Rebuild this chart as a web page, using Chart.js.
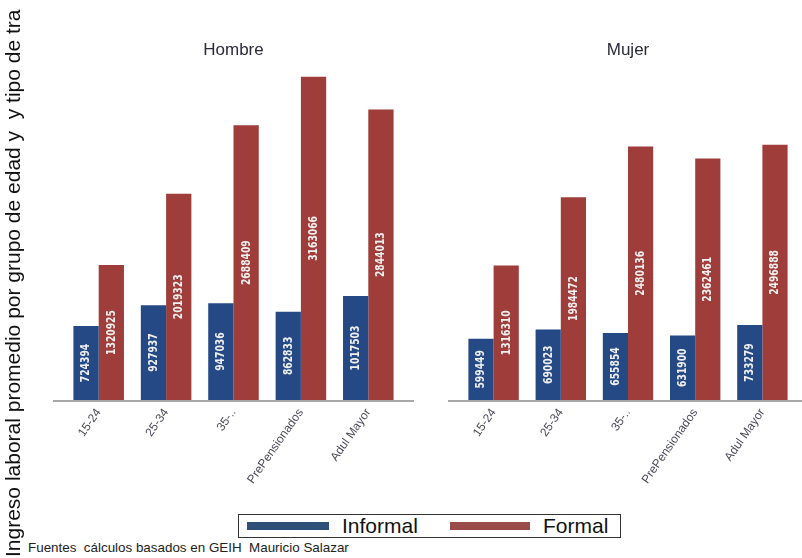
<!DOCTYPE html>
<html>
<head>
<meta charset="utf-8">
<script src="https://cdn.jsdelivr.net/npm/chart.js@4.4.1/dist/chart.umd.min.js"></script>
<style>
  html, body { margin: 0; padding: 0; background: #fff; }
  body { width: 802px; height: 558px; position: relative; overflow: hidden; font-family: Arial, "Liberation Sans", sans-serif; }
  .panel { position: absolute; top: 0; }
  #ytitle {
    position: absolute; left: 13px; top: 557px;
    transform-origin: 0 0; transform: rotate(-90deg) translateY(-50%);
    font-size: 21px; color: #111; white-space: pre;
  }
  #legend {
    position: absolute; left: 238px; top: 514px; width: 381px; height: 22px;
    border: 1.5px solid #333; background: #fff;
  }
  .sw { position: absolute; top: 7px; height: 8px; }
  .lt { position: absolute; top: -1px; font-size: 21px; color: #111; line-height: 24px; }
  #note {
    position: absolute; left: 28px; top: 540px; font-size: 13.4px; color: #222;
    white-space: pre; line-height: 16px;
  }
</style>
</head>
<body>
<div class="panel" style="left:0;width:420px;height:510px;"><canvas id="c1" width="420" height="510"></canvas></div>
<div class="panel" style="left:410px;width:392px;height:510px;"><canvas id="c2" width="392" height="510"></canvas></div>
<div id="ytitle">Ingreso laboral promedio por grupo de edad y  y tipo de tra</div>
<div id="legend">
  <div class="sw" style="left:8px;width:82px;background:#2d4f78;"></div>
  <div class="lt" style="left:103px;">Informal</div>
  <div class="sw" style="left:211px;width:80px;background:#9b4a4a;"></div>
  <div class="lt" style="left:304px;">Formal</div>
</div>
<div id="note">Fuentes  cálculos basados en GEIH  Mauricio Salazar</div>
<script>
// Age groups and average labour income by sex and job type
const categories = ['15-24', '25-34', '35-..', 'PrePensionados', 'Adul Mayor'];
const hombreInformal = [724394, 927937, 947036, 862833, 1017503];
const hombreFormal = [1320925, 2019323, 2688409, 3163066, 2844013];
const mujerInformal = [599449, 690023, 655854, 631900, 733279];
const mujerFormal = [1316310, 1984472, 2480136, 2362461, 2496888];
const seriesNames = ['Informal', 'Formal'];

const BLUE = '#244985';
const RED = '#9e3d39';

// Tall, narrow bold digits for the in-bar values
const VALUE_FONT = 'bold 13px "Liberation Sans Narrow", "DejaVu Sans Condensed", sans-serif';
const DIGIT_ADVANCE = 6.4;

// Writes each bar's value vertically in the middle of the bar
const barValues = {
  id: 'barValues',
  afterDatasetsDraw(chart) {
    const ctx = chart.ctx;
    ctx.save();
    ctx.fillStyle = '#f0f0f0';
    ctx.font = VALUE_FONT;
    ctx.textAlign = 'center';
    ctx.textBaseline = 'middle';
    chart.data.datasets.forEach((ds, i) => {
      const meta = chart.getDatasetMeta(i);
      meta.data.forEach((bar, j) => {
        const txt = String(ds.data[j]);
        const w = ctx.measureText(txt).width;
        const sx = Math.min(1, (DIGIT_ADVANCE * txt.length) / w);
        const cy = (bar.y + bar.base) / 2;
        ctx.save();
        ctx.translate(bar.x, cy);
        ctx.rotate(-Math.PI / 2);
        ctx.scale(sx, 1);
        ctx.fillText(txt, 0, 0);
        ctx.restore();
      });
    });
    ctx.restore();
  }
};

// Grey baseline that runs a little past the outer bars
const baseline = {
  id: 'baseline',
  beforeDatasetsDraw(chart, args, opts) {
    const a = chart.chartArea;
    const ctx = chart.ctx;
    ctx.save();
    ctx.strokeStyle = '#a8a8a8';
    ctx.lineWidth = 2;
    ctx.beginPath();
    ctx.moveTo(a.left - opts.extL, a.bottom + 1);
    ctx.lineTo(a.right + opts.extR, a.bottom + 1);
    ctx.stroke();
    ctx.restore();
  }
};

function makePanel(id, title, informal, formal, padL, padR, extL, extR) {
  return new Chart(document.getElementById(id), {
    type: 'bar',
    data: {
      labels: categories,
      datasets: [
        { label: seriesNames[0], data: informal, backgroundColor: BLUE },
        { label: seriesNames[1], data: formal, backgroundColor: RED }
      ]
    },
    options: {
      responsive: false,
      animation: false,
      layout: { padding: { left: padL, right: padR, top: 40, bottom: 0 } },
      datasets: { bar: { categoryPercentage: 0.75, barPercentage: 1.0, borderWidth: 0 } },
      plugins: {
        legend: { display: false },
        tooltip: { enabled: false },
        title: {
          display: true, text: title, color: '#2a2a3a',
          font: { family: 'Arial, "Liberation Sans", sans-serif', size: 17, weight: 'normal' },
          padding: { top: 0, bottom: 7 }
        },
        baseline: { extL: extL, extR: extR }
      },
      scales: {
        x: {
          grid: { display: false, drawTicks: false },
          border: { display: false },
          ticks: {
            color: '#4a4a5a', autoSkip: false, minRotation: 55, maxRotation: 55, padding: 6,
            font: { family: 'Arial, "Liberation Sans", sans-serif', size: 12 }
          },
          afterFit(scale) { scale.height = 110; }
        },
        y: { display: false, min: 0, max: 3255000 }
      }
    },
    plugins: [baseline, barValues]
  });
}

makePanel('c1', 'Hombre', hombreInformal, hombreFormal, 65, 18, 12, 12);
makePanel('c2', 'Mujer', mujerInformal, mujerFormal, 50, 6, 12, 12);
</script>
</body>
</html>
